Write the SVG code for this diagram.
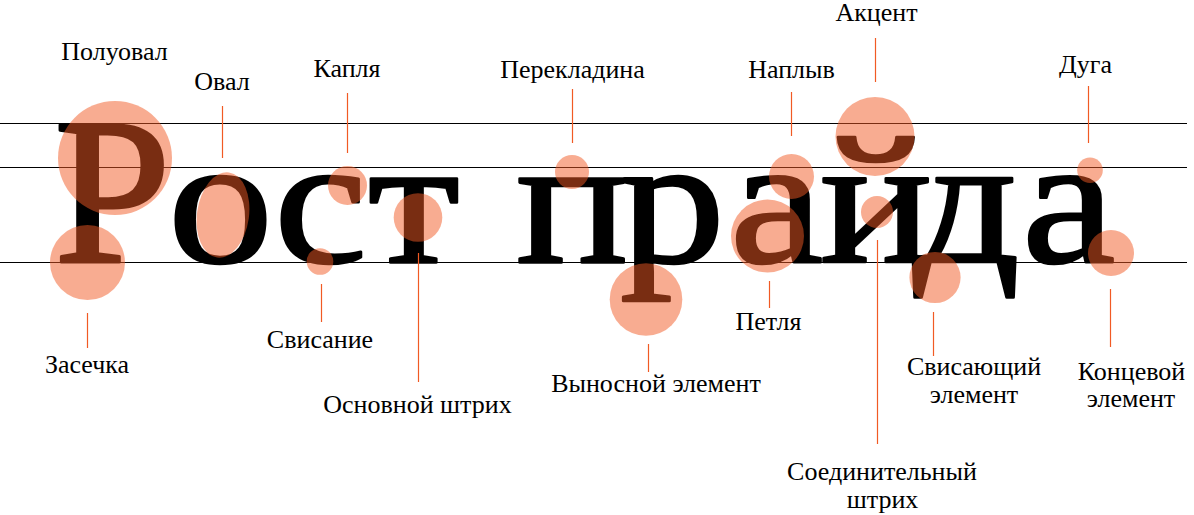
<svg xmlns="http://www.w3.org/2000/svg" width="1194" height="515" viewBox="0 0 1194 515">
<style>
.guide{stroke:#000;stroke-width:1;fill:none}
.leader{stroke:#F15A24;stroke-width:1.2;fill:none}
.spot{fill:#F15A24;fill-opacity:0.5}
.lbl{font-family:"Liberation Serif","DejaVu Serif",serif;font-size:26px;fill:#000;text-anchor:middle}
.big{font-family:"Liberation Serif","DejaVu Serif",serif;font-size:210px;fill:#000;stroke:#000;stroke-width:3;stroke-linejoin:round}
</style>
<rect width="1194" height="515" fill="#fff"/>
<g id="guides">
<line class="guide" x1="0" y1="123.5" x2="1187" y2="123.5"/>
<line class="guide" x1="0" y1="167.5" x2="1187" y2="167.5"/>
<line class="guide" x1="0" y1="262.5" x2="1187" y2="262.5"/>
</g>
<g id="specimen">
<text class="big" x="54" y="262">Р</text>
<g transform="translate(0 262) scale(1 0.87)">
<text class="big" x="168 274 368 464 516 620 730 820 913 1022" y="0">ост прайда</text>
</g>
</g>
<g id="connectors">
<line class="leader" x1="222.5" y1="106" x2="222.5" y2="158"/>
<line class="leader" x1="347.5" y1="93" x2="347.5" y2="153"/>
<line class="leader" x1="572.5" y1="89" x2="572.5" y2="143"/>
<line class="leader" x1="791.5" y1="92" x2="791.5" y2="136"/>
<line class="leader" x1="875.5" y1="38" x2="875.5" y2="82"/>
<line class="leader" x1="1088.5" y1="86" x2="1088.5" y2="143"/>
<line class="leader" x1="87.5" y1="313" x2="87.5" y2="348"/>
<line class="leader" x1="321.5" y1="284" x2="321.5" y2="322"/>
<line class="leader" x1="418.5" y1="253" x2="418.5" y2="382"/>
<line class="leader" x1="648.5" y1="344" x2="648.5" y2="372"/>
<line class="leader" x1="769.5" y1="281" x2="769.5" y2="308"/>
<line class="leader" x1="877.5" y1="240" x2="877.5" y2="444"/>
<line class="leader" x1="933.5" y1="312" x2="933.5" y2="356"/>
<line class="leader" x1="1110.5" y1="289" x2="1110.5" y2="347"/>
</g>
<g id="poluoval"><circle class="spot" cx="115" cy="158" r="57"/><text class="lbl" x="114.5" y="60">Полуовал</text></g>
<g id="zasechka"><circle class="spot" cx="87.5" cy="262.5" r="37.5"/><text class="lbl" x="87" y="373">Засечка</text></g>
<g id="oval"><ellipse class="spot" cx="223" cy="215" rx="26" ry="43" transform="rotate(8 223 215)"/><text class="lbl" x="222" y="90">Овал</text></g>
<g id="kaplya"><circle class="spot" cx="347.5" cy="185.5" r="19.5"/><text class="lbl" x="347" y="77">Капля</text></g>
<g id="svisanie"><circle class="spot" cx="320" cy="261.5" r="13.3"/><text class="lbl" x="320" y="348">Свисание</text></g>
<g id="osnovnoy-shtrikh"><circle class="spot" cx="418" cy="217.5" r="24.3"/><text class="lbl" x="417.5" y="413">Основной штрих</text></g>
<g id="perekladina"><circle class="spot" cx="572" cy="172" r="17"/><text class="lbl" x="572.5" y="78">Перекладина</text></g>
<g id="vynosnoy-element"><circle class="spot" cx="646" cy="299.5" r="36.3"/><text class="lbl" x="656" y="392">Выносной элемент</text></g>
<g id="naplyv"><circle class="spot" cx="791.5" cy="176.5" r="22.5"/><text class="lbl" x="791.5" y="78">Наплыв</text></g>
<g id="petlya"><circle class="spot" cx="767.5" cy="236" r="36.5"/><text class="lbl" x="768.5" y="330">Петля</text></g>
<g id="aktsent"><circle class="spot" cx="875" cy="136.5" r="39.5"/><text class="lbl" x="876.5" y="21">Акцент</text></g>
<g id="soedinitelny-shtrikh"><circle class="spot" cx="877" cy="212" r="16"/><text class="lbl" x="882" y="480">Соединительный</text><text class="lbl" x="882.5" y="508">штрих</text></g>
<g id="svisayushchiy-element"><circle class="spot" cx="935" cy="277.5" r="25.6"/><text class="lbl" x="974" y="375">Свисающий</text><text class="lbl" x="974" y="403">элемент</text></g>
<g id="duga"><circle class="spot" cx="1090" cy="170.3" r="12.8"/><text class="lbl" x="1085.5" y="73">Дуга</text></g>
<g id="kontsevoy-element"><circle class="spot" cx="1111" cy="253" r="23"/><text class="lbl" x="1131.5" y="380">Концевой</text><text class="lbl" x="1131" y="407">элемент</text></g>
</svg>
